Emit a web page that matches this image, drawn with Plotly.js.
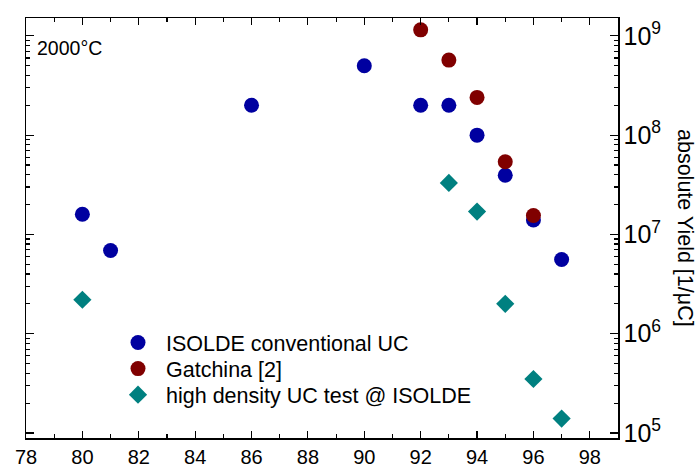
<!DOCTYPE html>
<html>
<head>
<meta charset="utf-8">
<script src="https://cdn.plot.ly/plotly-3.0.1.min.js"></script>
<style>html,body{margin:0;padding:0;background:#fff;}#chart{width:700px;height:470px;}</style>
</head>
<body>
<div id="chart"></div>
<script>
// ---- data ----
const isoldeMass = [80, 81, 86, 90, 92, 93, 94, 95, 96, 97];
const isoldeYield = [1.6e7, 6.9e6, 2.0e8, 5.0e8, 2.0e8, 2.0e8, 1.0e8, 3.95e7, 1.4e7, 5.6e6];
const gatchinaMass = [92, 93, 94, 95, 96];
const gatchinaYield = [1.15e9, 5.7e8, 2.4e8, 5.4e7, 1.55e7];
const hdMass = [80, 93, 94, 95, 96, 97];
const hdYield = [2.2e6, 3.3e7, 1.7e7, 2.0e6, 3.5e5, 1.4e5];
const seriesNames = ["ISOLDE conventional UC", "Gatchina [2]", "high density UC test @ ISOLDE"];
const xTickVals = [78, 80, 82, 84, 86, 88, 90, 92, 94, 96, 98];

const font = "Liberation Sans, Arial, sans-serif";

const traces = [
  {x: isoldeMass, y: isoldeYield, name: seriesNames[0], type: "scatter", mode: "markers", legend: "legend",
   marker: {symbol: "circle", size: 15, color: "#0000a0"}},
  {x: gatchinaMass, y: gatchinaYield, name: seriesNames[1], type: "scatter", mode: "markers", legend: "legend2",
   marker: {symbol: "circle", size: 15, color: "#800000"}},
  {x: hdMass, y: hdYield, name: seriesNames[2], type: "scatter", mode: "markers", legend: "legend3",
   marker: {symbol: "diamond", size: 14, color: "#008080"}}
];

function leg(y) {
  return {x: 0.1419, y: y, xanchor: "left", yanchor: "top", bgcolor: "rgba(0,0,0,0)",
          borderwidth: 0, font: {family: font, size: 21.5, color: "#000"}, itemwidth: 46};
}

const layout = {
  width: 700, height: 470,
  margin: {l: 26, r: 82, t: 18, b: 32},
  paper_bgcolor: "#fff", plot_bgcolor: "#fff",
  font: {family: font, size: 20, color: "#000"},
  showlegend: true,
  legend: leg(0.276),
  legend2: leg(0.214),
  legend3: leg(0.152),
  xaxis: {
    range: [78, 99], tickvals: xTickVals, ticks: "inside", ticklen: 7, tickwidth: 1.2,
    tickcolor: "#000", showline: true, linecolor: "#000", linewidth: 1.5, mirror: "allticks",
    showgrid: false, zeroline: false, tickfont: {family: font, size: 20},
    minor: {dtick: 1, ticks: "inside", ticklen: 4, tickwidth: 1.2, tickcolor: "#000", showgrid: false}
  },
  yaxis: {
    type: "log", side: "right", range: [4.95, 9.18], dtick: 1,
    exponentformat: "power", showexponent: "all",
    ticks: "inside", ticklen: 8, tickwidth: 1.2, tickcolor: "#000",
    showline: true, linecolor: "#000", linewidth: 1.5, mirror: "allticks",
    showgrid: false, zeroline: false, tickfont: {family: font, size: 20},
    minor: {dtick: "D1", ticks: "inside", ticklen: 4, tickwidth: 1.2, tickcolor: "#000", showgrid: false}
  },
  annotations: [
    {text: "2000°C", xref: "paper", yref: "paper", x: 0.0743, y: 0.929, xanchor: "center", yanchor: "middle",
     showarrow: false, font: {family: font, size: 19.5, color: "#000"}},
    {text: "absolute Yield [1/μC]", xref: "paper", yref: "paper", x: 1, xshift: 67, y: 0.5,
     xanchor: "center", yanchor: "middle", textangle: 90, showarrow: false,
     font: {family: font, size: 21.5, color: "#000"}}
  ]
};

Plotly.newPlot("chart", traces, layout, {displayModeBar: false, staticPlot: true});
</script>
</body>
</html>
